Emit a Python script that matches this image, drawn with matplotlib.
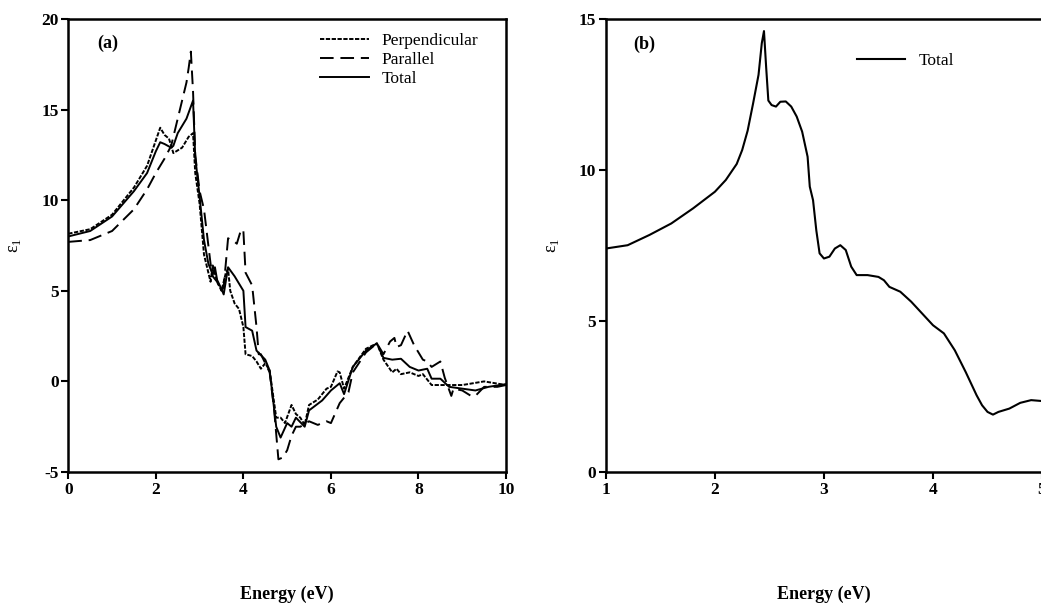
import matplotlib
matplotlib.use('Agg')
import matplotlib.pyplot as plt

plt.rcParams['font.family'] = ['Liberation Serif', 'DejaVu Serif']
plt.rcParams['mathtext.fontset'] = 'custom'
plt.rcParams['mathtext.rm'] = 'Liberation Serif'
plt.rcParams['axes.unicode_minus'] = False

# Panel (a): epsilon_1 vs energy
perp_x = [0.0, 0.5, 1.0, 1.5, 1.8, 2.0, 2.1, 2.2, 2.3, 2.4, 2.6, 2.75, 2.85, 2.9, 3.0,
          3.1, 3.2, 3.25, 3.3, 3.4, 3.5, 3.6, 3.65, 3.7, 3.8, 3.9, 4.0, 4.05, 4.2,
          4.3, 4.4, 4.5, 4.6, 4.75, 4.85, 4.95, 5.1, 5.2, 5.3, 5.4, 5.5, 5.7, 5.9,
          6.0, 6.15, 6.2, 6.3, 6.5, 6.8, 7.05, 7.2, 7.4, 7.5, 7.6, 7.8, 8.0, 8.1,
          8.3, 8.5, 9.0, 9.5, 10.0]
perp_y = [8.15, 8.4, 9.2, 10.7, 11.9, 13.3, 14.0, 13.6, 13.4, 12.6, 12.9, 13.5, 13.7, 11.5, 9.8,
          7.0, 6.0, 5.5, 6.4, 5.5, 5.0, 6.0, 6.2, 5.0, 4.3, 4.0, 3.0, 1.5, 1.4,
          1.1, 0.7, 1.0, 0.6, -2.0, -2.0, -2.3, -1.3, -1.8, -2.0, -2.4, -1.3, -1.0, -0.4,
          -0.3, 0.55, 0.5, -0.4, 0.8, 1.8, 2.1, 1.2, 0.5, 0.7, 0.4, 0.5, 0.3, 0.4,
          -0.2, -0.2, -0.2, 0.0, -0.2]

para_x = [0.0, 0.5, 1.0, 1.5, 1.8, 2.0, 2.2, 2.35, 2.4, 2.5, 2.6, 2.7, 2.75, 2.8, 2.85,
          2.9, 3.0, 3.1, 3.2, 3.25, 3.3, 3.4, 3.5, 3.55, 3.65, 3.8, 3.85, 3.95, 4.0,
          4.05, 4.2, 4.3, 4.35, 4.4, 4.5, 4.6, 4.7, 4.8, 4.9, 5.0, 5.1, 5.2, 5.3,
          5.5, 5.7, 5.9, 6.0, 6.2, 6.4, 6.5, 6.8, 7.05, 7.2, 7.35, 7.45, 7.5, 7.6,
          7.75, 7.9, 8.1, 8.2, 8.3, 8.5, 8.6, 8.75, 8.8, 9.0, 9.2, 9.3, 9.5, 9.8, 10.0]
para_y = [7.7, 7.8, 8.3, 9.5, 10.6, 11.5, 12.3, 13.0, 13.5, 14.5, 15.5, 16.5, 17.3, 18.2, 16.0,
          12.5, 10.5, 9.5, 7.5, 6.5, 5.8, 5.5, 5.0, 5.2, 7.9, 7.7, 7.6, 8.4, 8.3,
          6.0, 5.3, 3.0, 1.5, 1.5, 1.0, 0.5, -1.5, -4.3, -4.2, -3.8, -3.0, -2.5, -2.5,
          -2.2, -2.4, -2.2, -2.3, -1.2, -0.6, 0.5, 1.6, 2.1, 1.5, 2.2, 2.4, 1.9, 2.0,
          2.8, 2.0, 1.2, 1.1, 0.8, 1.1, 0.2, -0.8, -0.4, -0.5, -0.8, -0.8, -0.3, -0.3, -0.2]

tot_x = [0.0, 0.5, 1.0, 1.5, 1.8, 2.0, 2.1, 2.2, 2.35, 2.4, 2.5, 2.7, 2.85, 2.9, 3.0,
         3.1, 3.2, 3.3, 3.35, 3.4, 3.5, 3.55, 3.65, 3.8, 4.0, 4.05, 4.2, 4.3, 4.5,
         4.6, 4.75, 4.85, 5.0, 5.1, 5.2, 5.4, 5.5, 5.8, 6.0, 6.2, 6.3, 6.5, 6.8,
         7.05, 7.2, 7.4, 7.6, 7.8, 8.0, 8.2, 8.3, 8.5, 8.7, 9.0, 9.3, 9.6, 10.0]
tot_y = [8.0, 8.3, 9.1, 10.5, 11.5, 12.7, 13.2, 13.1, 12.9, 13.0, 13.7, 14.5, 15.5, 12.4, 10.2,
         7.8, 6.5, 5.9, 6.3, 5.6, 5.1, 4.8, 6.3, 5.8, 5.0, 3.0, 2.8, 1.7, 1.2,
         0.6, -2.5, -3.1, -2.3, -2.5, -2.0, -2.5, -1.6, -1.05, -0.5, -0.1, -0.7, 0.8, 1.7,
         2.1, 1.3, 1.2, 1.25, 0.8, 0.6, 0.7, 0.15, 0.15, -0.3, -0.4, -0.5, -0.3, -0.15]

# Panel (b): total epsilon_1
b_x = [1.0, 1.2, 1.4, 1.6, 1.8, 2.0, 2.1, 2.2, 2.25, 2.3, 2.35, 2.4, 2.43, 2.45, 2.47,
       2.49, 2.52, 2.56, 2.6, 2.65, 2.7, 2.75, 2.8, 2.85, 2.87, 2.9, 2.93, 2.96, 3.0,
       3.05, 3.1, 3.15, 3.2, 3.25, 3.3, 3.4, 3.5, 3.55, 3.6, 3.7, 3.8, 3.9, 4.0,
       4.1, 4.2, 4.3, 4.4, 4.45, 4.5, 4.55, 4.6, 4.7, 4.8, 4.9, 5.0]
b_y = [7.40, 7.51, 7.85, 8.23, 8.73, 9.28, 9.67, 10.2, 10.66, 11.3, 12.2, 13.15, 14.2, 14.6, 13.4,
       12.3, 12.15, 12.1, 12.26, 12.27, 12.1, 11.77, 11.27, 10.44, 9.45, 9.0, 8.0, 7.24, 7.07,
       7.13, 7.40, 7.51, 7.35, 6.8, 6.52, 6.52, 6.46, 6.35, 6.13, 5.97, 5.64, 5.25, 4.86,
       4.59, 4.03, 3.31, 2.54, 2.21, 1.99, 1.90, 1.99, 2.1, 2.29, 2.38, 2.35]

fig = plt.figure(figsize=(10.41, 6.13), dpi=100)
ax1 = fig.add_axes([0.0656, 0.230, 0.4205, 0.739])
ax2 = fig.add_axes([0.582, 0.230, 0.419, 0.739])

ax1.plot(perp_x, perp_y, color='black', lw=1.4, linestyle=(0, (2.2, 0.8)), label='Perpendicular')
ax1.plot(para_x, para_y, color='black', lw=1.4, linestyle=(0, (7, 3.5)), label='Parallel')
ax1.plot(tot_x, tot_y, color='black', lw=1.4, label='Total')
ax1.set_xlim(0, 10)
ax1.set_ylim(-5, 20)
ax1.set_xticks([0, 2, 4, 6, 8, 10])
ax1.set_yticks([-5, 0, 5, 10, 15, 20])
ax1.text(0.066, 0.947, '(a)', transform=ax1.transAxes, fontsize=13, fontweight='bold',
         va='center', ha='left')
ax1.legend(loc='upper left', bbox_to_anchor=(0.575, 0.970), frameon=False, fontsize=12.5,
           handlelength=2.8, handletextpad=0.75, labelspacing=0.17, borderpad=0,
           borderaxespad=0)

ax2.plot(b_x, b_y, color='black', lw=1.5, label='Total')
ax2.set_xlim(1, 5)
ax2.set_ylim(0, 15)
ax2.set_xticks([1, 2, 3, 4, 5])
ax2.set_yticks([0, 5, 10, 15])
ax2.text(0.062, 0.943, '(b)', transform=ax2.transAxes, fontsize=13, fontweight='bold',
         va='center', ha='left')
ax2.legend(loc='upper left', bbox_to_anchor=(0.575, 0.926), frameon=False, fontsize=12.5,
           handlelength=2.8, handletextpad=0.75, borderpad=0, borderaxespad=0)

for ax in (ax1, ax2):
    for sp in ax.spines.values():
        sp.set_linewidth(1.8)
    ax.tick_params(direction='out', length=5, width=1.5, labelsize=12.5, pad=2)
    for lab in ax.get_xticklabels() + ax.get_yticklabels():
        lab.set_fontweight('bold')
    ax.set_xlabel('Energy (eV)', fontsize=13, fontweight='bold')
    ax.xaxis.set_label_coords(0.5, -0.25)
    ax.set_ylabel('ε$_1$', fontsize=13)
    ax.yaxis.set_label_coords(-0.103, 0.5)

fig.savefig('out.png', dpi=100)
